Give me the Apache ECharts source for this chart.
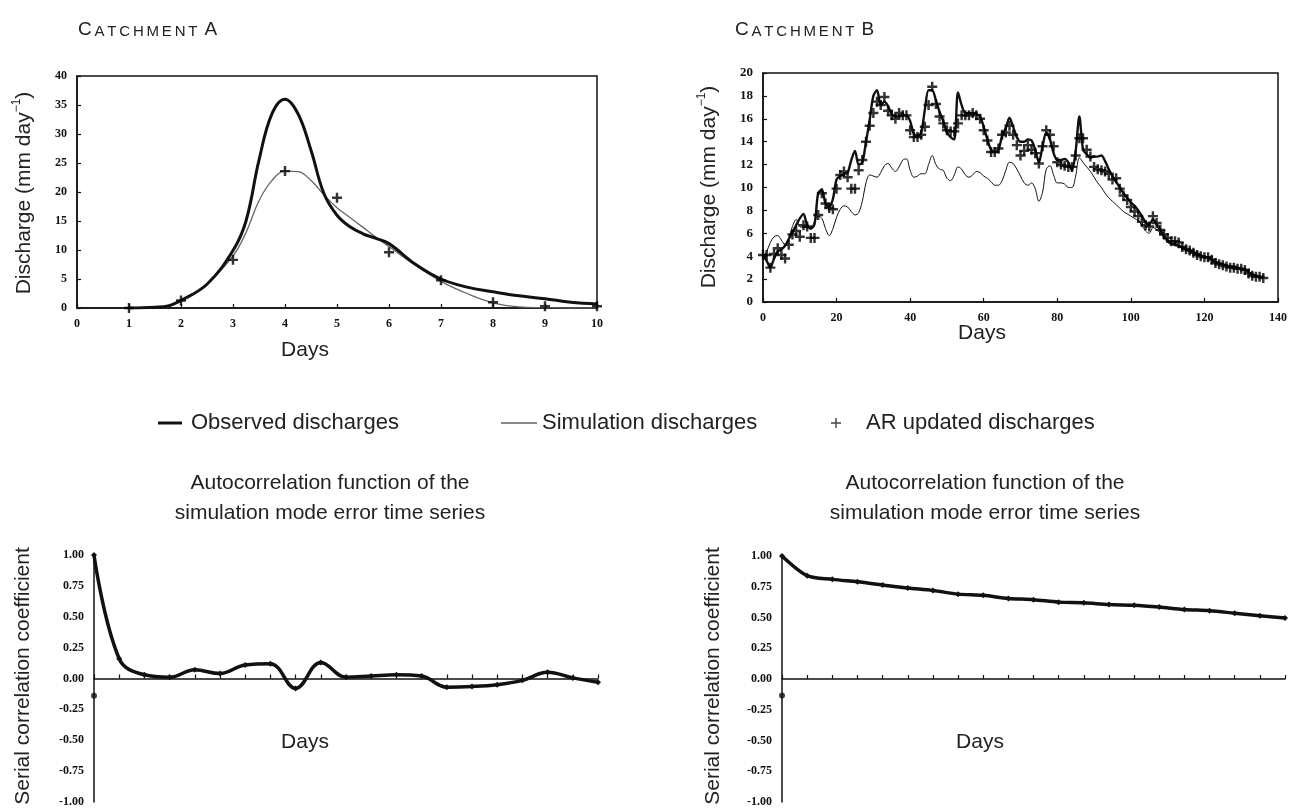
<!DOCTYPE html>
<html><head><meta charset="utf-8">
<script src="https://cdn.jsdelivr.net/npm/echarts@6/dist/echarts.min.js"></script>
<style>html,body{margin:0;padding:0;background:#fff}#c{width:1290px;height:808px}</style>
</head><body><div id="c"></div>
<script>
// ---------- DATA ----------
// Catchment A (days 1..10)
const daysA = [1,1.5,1.75,2,2.5,3,3.25,3.5,3.75,4,4.25,4.5,4.75,5,5.25,5.5,5.75,6,6.5,7,7.5,8,8.5,9,9.5,10];
const obsA  = [0,0.15,0.35,1.3,4.1,9.9,15.0,25.5,33.5,36.0,33.5,27.2,19.7,16.0,14.0,12.8,12.0,11.1,7.6,5.0,3.6,2.8,2.1,1.6,1.0,0.7];
const simA  = [0,0.1,0.25,1.3,4.2,9.0,13.0,18.5,22.0,23.6,23.5,22.0,19.5,17.3,15.6,13.9,12.2,10.6,7.4,4.6,2.5,0.9,0.2,0.05,0,0];
const arDaysA = [1,2,3,4,5,6,7,8,9,10];
const arA     = [0,1.3,8.3,23.6,19.0,9.6,4.8,1.0,0.3,0.3];

// Catchment B (days 0..136, one value per day)
const obsB = [4.1,3.6,3.0,3.8,4.4,4.6,4.9,5.5,6.1,6.7,7.3,7.7,6.7,6.4,6.8,9.5,9.8,8.6,8.3,9.0,
  10.7,11.0,11.2,11.3,12.4,13.2,12.0,12.2,14.0,15.9,18.0,18.5,17.2,17.5,17.1,16.4,16.2,16.2,16.3,16.3,
  15.8,14.7,14.5,14.8,16.8,18.5,18.5,17.6,16.6,15.8,14.8,14.4,14.2,18.3,17.2,16.5,16.5,16.5,16.4,16.2,
  15.3,14.2,13.3,13.1,13.3,14.5,15.2,16.1,15.3,14.4,14.0,14.0,14.2,14.1,13.3,12.2,13.6,14.8,14.2,13.0,
  12.4,12.4,12.5,12.2,11.5,13.2,16.2,13.3,12.9,12.6,12.7,12.7,12.8,12.3,11.6,11.0,10.5,10.0,9.5,9.1,
  8.7,8.4,8.0,7.5,7.0,6.8,7.2,6.8,6.3,5.8,5.4,5.1,5.0,4.9,4.8,4.6,4.5,4.3,4.2,4.1,
  3.9,3.9,3.7,3.5,3.4,3.3,3.2,3.1,3.1,3.0,2.9,2.8,2.6,2.4,2.3,2.2,2.1];
const simB = [3.9,4.4,5.2,5.7,5.8,5.4,5.0,5.6,6.6,7.2,6.6,6.5,6.5,6.5,7.0,7.5,7.3,6.4,5.8,6.4,
  7.4,8.1,8.4,8.3,7.9,7.6,7.8,8.8,10.4,11.1,11.0,10.9,11.3,11.9,12.1,11.7,11.4,11.8,12.4,12.5,
  11.5,10.9,11.0,11.2,11.2,12.0,12.8,12.0,11.6,11.5,10.8,10.6,11.1,11.8,11.6,11.1,10.9,11.1,11.4,11.3,
  11.0,10.8,10.5,10.2,10.2,10.6,11.5,12.2,12.1,11.6,11.0,10.4,10.2,10.4,9.9,8.8,9.6,11.6,11.9,11.1,
  10.4,10.4,10.3,10.0,10.0,11.0,12.6,12.2,11.8,11.4,10.9,10.4,10.0,9.5,9.1,8.8,8.5,8.2,7.9,7.7,
  7.5,7.3,7.1,6.7,6.2,6.0,6.5,6.3,6.0,5.6,5.2,5.0,5.0,5.0,4.8,4.6,4.5,4.3,4.2,4.1,
  3.9,3.9,3.7,3.5,3.4,3.3,3.2,3.1,3.1,3.0,2.9,2.8,2.6,2.4,2.3,2.2,2.1];
const arB = [4.1,4.1,3.0,4.2,4.7,4.1,3.8,5.0,5.9,6.2,5.7,6.7,6.6,5.6,5.6,7.6,9.5,8.6,8.2,8.1,
  9.9,11.1,11.4,10.9,9.9,9.9,11.5,12.4,14.0,15.4,16.5,17.5,17.2,17.9,16.7,16.3,16.0,16.5,16.3,16.3,
  15.0,14.4,14.4,14.6,15.3,17.2,18.8,17.3,16.2,15.6,15.0,14.9,14.9,15.6,16.3,16.3,16.3,16.5,16.3,16.0,
  15.0,14.1,13.1,13.1,13.4,14.6,14.8,15.4,14.6,13.7,12.8,13.2,13.7,13.3,13.0,12.1,13.6,15.0,14.6,13.6,
  12.2,12.0,11.9,11.8,11.8,12.8,14.3,14.3,13.3,12.7,11.8,11.6,11.5,11.4,11.2,10.7,10.8,9.9,9.3,8.9,
  8.3,7.9,7.5,7.0,6.7,6.6,7.5,6.9,6.3,5.9,5.6,5.3,5.3,5.2,4.8,4.6,4.5,4.3,4.1,4.0,
  3.9,3.9,3.7,3.4,3.3,3.2,3.1,3.0,3.0,2.9,2.9,2.8,2.5,2.3,2.2,2.2,2.1];

// Autocorrelation (lags 0..20)
const lags = [0,1,2,3,4,5,6,7,8,9,10,11,12,13,14,15,16,17,18,19,20];
const acfA = [1.00,0.16,0.03,0.01,0.07,0.04,0.11,0.12,-0.08,0.13,0.01,0.02,0.03,0.02,-0.07,-0.065,-0.05,-0.015,0.05,0.005,-0.03];
const acfB = [1.00,0.84,0.81,0.79,0.765,0.74,0.72,0.69,0.68,0.655,0.645,0.625,0.62,0.605,0.60,0.585,0.565,0.555,0.535,0.515,0.495];
const axisDotA = [0,-0.14];
const axisDotB = [0,-0.135];

const labels = {
  catchA: ['C','ATCHMENT','A'], catchB: ['C','ATCHMENT','B'],
  discharge: 'Discharge (mm day', sup: '\u22121',
  days: 'Days', serial: 'Serial correlation coefficient',
  acf1: 'Autocorrelation function of the', acf2: 'simulation mode error time series',
  obs: 'Observed discharges', sim: 'Simulation discharges', ar: 'AR updated discharges'
};

// ---------- STYLE ----------
const INK = '#111';
const SANS = '"Liberation Sans", Arial, sans-serif';
const SERIF = '"Liberation Serif", "Times New Roman", serif';
const PLUS = 'path://M3.4,0h2.2v3.4h3.4v2.2h-3.4v3.4h-2.2v-3.4h-3.4v-2.2h3.4z';
const PLUS_THIN = 'path://M4.3,0h1.4v4.3h4.3v1.4h-4.3v4.3h-1.4v-4.3h-4.3v-1.4h4.3z';

function tickLabel(extra) {
  return Object.assign({color: INK, fontFamily: SERIF, fontWeight: 'bold', fontSize: 12}, extra || {});
}
function topX(gi, max, interval, size) {
  return {type: 'value', gridIndex: gi, min: 0, max: max, interval: interval,
    axisLine: {show: true, onZero: false, lineStyle: {color: INK, width: 1.5}},
    axisTick: {show: true, inside: true, length: 4, lineStyle: {color: INK, width: 1.2}},
    axisLabel: tickLabel({margin: 10, fontSize: size}), splitLine: {show: false}};
}
function topY(gi, max, interval, size) {
  return {type: 'value', gridIndex: gi, min: 0, max: max, interval: interval,
    axisLine: {show: true, onZero: false, lineStyle: {color: INK, width: 1.5}},
    axisTick: {show: true, inside: true, length: 4, lineStyle: {color: INK, width: 1.2}},
    axisLabel: tickLabel({margin: 10, fontSize: size}), splitLine: {show: false}};
}
function botX(gi) {
  return {type: 'value', gridIndex: gi, min: 0, max: 20, interval: 1,
    axisLine: {show: true, onZero: true, lineStyle: {color: INK, width: 1.5}},
    axisTick: {show: true, inside: true, length: 4, lineStyle: {color: INK, width: 1.2}},
    axisLabel: tickLabel({fontSize: 10.5, margin: 14,
      formatter: v => (v > 0 && v % 2 === 0) ? String(v) : ''}),
    splitLine: {show: false}};
}
function botY(gi) {
  return {type: 'value', gridIndex: gi, min: -1, max: 1, interval: 0.25,
    axisLine: {show: true, lineStyle: {color: INK, width: 1.5}},
    axisTick: {show: false},
    axisLabel: tickLabel({margin: 10, fontSize: 12, formatter: v => v.toFixed(2)}),
    splitLine: {show: false}};
}
const pairs = (xs, ys) => ys.map((v, i) => [xs[i], v]);
const byDay = ys => ys.map((v, i) => [i, v]);

// small caps title built from letter tokens with a little letter spacing
function smallCaps(parts, x, y) {
  let t = '{b|' + parts[0] + '}';
  for (const ch of parts[1]) t += '{s|' + ch + '}';
  t += '{g| }{b|' + parts[2] + '}';
  const base = {fontFamily: SANS, fill: '#222', lineHeight: 22, verticalAlign: 'bottom'};
  return {type: 'text', x: x, y: y, style: {
    text: t, verticalAlign: 'middle',
    rich: {b: Object.assign({fontSize: 19, padding: [0, 2.8, 0, 0]}, base),
           s: Object.assign({fontSize: 15, padding: [0, 2.8, 0, 0]}, base),
           g: Object.assign({fontSize: 15}, base)}}};
}
function dischargeName(x, y) {
  return {type: 'text', x: x, y: y, rotation: Math.PI / 2, style: {
    text: '{n|' + labels.discharge + '}{s|' + labels.sup + '}{n|)}',
    align: 'center', verticalAlign: 'middle',
    rich: {n: {fontSize: 21, fontFamily: SANS, fill: '#222', lineHeight: 26},
           s: {fontSize: 12, fontFamily: SANS, fill: '#222', lineHeight: 14, verticalAlign: 'top'}}}};
}
function plainText(t, x, y, size, rot) {
  return {type: 'text', x: x, y: y, rotation: rot || 0, style: {
    text: t, font: size + 'px ' + SANS, fill: '#222', align: 'center', verticalAlign: 'middle'}};
}
const legendText = pad => ({fontFamily: SANS, fontSize: 22, color: '#222', padding: pad});

const option = {
  animation: false,
  backgroundColor: '#fff',
  grid: [
    {left: 77, top: 76, width: 520, height: 232, show: true, borderColor: INK, borderWidth: 1.5, containLabel: false, outerBoundsMode: 'none'},
    {left: 763, top: 73, width: 515, height: 229, show: true, borderColor: INK, borderWidth: 1.5, containLabel: false, outerBoundsMode: 'none'},
    {left: 94, top: 555, width: 504, height: 247, containLabel: false, outerBoundsMode: 'none'},
    {left: 782, top: 556, width: 503, height: 246, containLabel: false, outerBoundsMode: 'none'}
  ],
  xAxis: [topX(0, 10, 1, 12), topX(1, 140, 20, 12), botX(2), botX(3)],
  yAxis: [topY(0, 40, 5, 12), topY(1, 20, 2, 13), botY(2), botY(3)],
  legend: [
    {left: 153, top: 407, selectedMode: false, itemWidth: 24, itemHeight: 3,
     data: [{name: labels.obs, icon: 'rect', itemStyle: {color: INK}}],
     textStyle: legendText([0, 0, 0, 4])},
    {left: 496, top: 407, selectedMode: false, itemWidth: 36, itemHeight: 1,
     data: [{name: labels.sim, icon: 'rect', itemStyle: {color: INK}}],
     textStyle: legendText([0, 0, 0, 0])},
    {left: 826, top: 407, selectedMode: false, itemWidth: 10, itemHeight: 10,
     data: [{name: labels.ar, icon: PLUS_THIN, itemStyle: {color: INK}}],
     textStyle: legendText([0, 0, 0, 20])}
  ],
  series: [
    {name: labels.obs, type: 'line', xAxisIndex: 1, yAxisIndex: 1, data: byDay(obsB), smooth: 0.3,
     showSymbol: false, lineStyle: {color: INK, width: 2.4}, itemStyle: {color: INK}, z: 4},
    {name: labels.sim, type: 'line', xAxisIndex: 1, yAxisIndex: 1, data: byDay(simB), smooth: 0.35,
     showSymbol: false, lineStyle: {color: INK, width: 1}, itemStyle: {color: INK}, z: 3},
    {name: labels.ar, type: 'scatter', xAxisIndex: 1, yAxisIndex: 1, data: byDay(arB),
     symbol: PLUS, symbolSize: 10, itemStyle: {color: '#000'}, z: 5},
    {name: labels.obs, type: 'line', xAxisIndex: 0, yAxisIndex: 0, data: pairs(daysA, obsA), smooth: 0.4,
     showSymbol: false, lineStyle: {color: INK, width: 3}, itemStyle: {color: INK}, z: 4},
    {name: labels.sim, type: 'line', xAxisIndex: 0, yAxisIndex: 0, data: pairs(daysA, simA), smooth: 0.4,
     showSymbol: false, lineStyle: {color: '#666', width: 1.3}, itemStyle: {color: '#666'}, z: 3},
    {name: labels.ar, type: 'scatter', xAxisIndex: 0, yAxisIndex: 0, data: pairs(arDaysA, arA),
     symbol: PLUS, symbolSize: 10, itemStyle: {color: '#000'}, z: 5},
    {name: 'ACF A', type: 'line', xAxisIndex: 2, yAxisIndex: 2, data: pairs(lags, acfA), smooth: 0.4,
     symbol: 'diamond', symbolSize: 6, showSymbol: true, lineStyle: {color: INK, width: 3.5}, itemStyle: {color: INK}},
    {name: 'ACF B', type: 'line', xAxisIndex: 3, yAxisIndex: 3, data: pairs(lags, acfB), smooth: 0.3,
     symbol: 'diamond', symbolSize: 6, showSymbol: true, lineStyle: {color: INK, width: 3.5}, itemStyle: {color: INK}},
    {name: 'dot A', type: 'scatter', xAxisIndex: 2, yAxisIndex: 2, data: [axisDotA], symbol: 'circle', symbolSize: 6, itemStyle: {color: INK}},
    {name: 'dot B', type: 'scatter', xAxisIndex: 3, yAxisIndex: 3, data: [axisDotB], symbol: 'circle', symbolSize: 6, itemStyle: {color: INK}}
  ],
  graphic: [
    smallCaps(labels.catchA, 78, 28),
    smallCaps(labels.catchB, 735, 28),
    dischargeName(24, 193),
    dischargeName(709, 187),
    plainText(labels.days, 305, 350, 21),
    plainText(labels.days, 982, 333, 21),
    plainText(labels.acf1, 330, 483, 21),
    plainText(labels.acf2, 330, 513, 21),
    plainText(labels.acf1, 985, 483, 21),
    plainText(labels.acf2, 985, 513, 21),
    plainText(labels.serial, 23, 676, 21, Math.PI / 2),
    plainText(labels.serial, 713, 676, 21, Math.PI / 2),
    plainText(labels.days, 305, 742, 21),
    plainText(labels.days, 980, 742, 21)
  ]
};
const chart = echarts.init(document.getElementById('c'), null, {renderer: 'canvas'});
chart.setOption(option);
</script></body></html>
